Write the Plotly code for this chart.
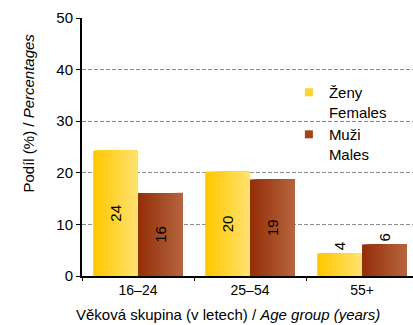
import plotly.graph_objects as go

# Age groups and shares (%) by sex
age_groups = ["16–24", "25–54", "55+"]
females = [24.3, 20.2, 4.4]
males = [16.1, 18.7, 6.1]
y_ticks = [0, 10, 20, 30, 40, 50]

FONT = "Liberation Sans, Arial, sans-serif"
BAR_W = 0.4      # width of one bar in category units
N_STRIPS = 18    # vertical strips used to fake a horizontal gradient


def lerp(c0, c1, t):
    return "rgb(%d,%d,%d)" % tuple(round(a + (b - a) * t) for a, b in zip(c0, c1))


series = [
    ("Ženy<br>Females", females, (255, 200, 0), (255, 226, 110), -BAR_W),
    ("Muži<br>Males", males, (148, 48, 8), (180, 100, 62), 0.0),
]

fig = go.Figure()

for name, vals, c_left, c_right, start in series:
    step = BAR_W / N_STRIPS
    for i in range(N_STRIPS):
        t = i / (N_STRIPS - 1)
        fig.add_trace(go.Bar(
            x=age_groups, y=vals,
            offset=start + i * step, width=BAR_W - i * step,
            marker=dict(color=lerp(c_left, c_right, t), line=dict(width=0)),
            showlegend=False, hoverinfo="skip",
        ))
    # transparent full-width bar carrying the value label
    fig.add_trace(go.Bar(
        x=age_groups, y=vals, offset=start, width=BAR_W,
        marker=dict(color="rgba(0,0,0,0)", line=dict(width=0)),
        text=[f"{v:.0f}" for v in vals],
        textposition=["inside" if v > 8 else "outside" for v in vals],
        insidetextanchor="middle",
        textangle=-90, constraintext="none", cliponaxis=False,
        textfont=dict(family=FONT, size=15, color="black"),
        showlegend=False, hoverinfo="skip",
    ))
    # small square legend key
    fig.add_trace(go.Scatter(
        x=[None], y=[None], mode="markers", name=name,
        marker=dict(symbol="square", size=8, color=lerp(c_left, c_right, 0.4)),
        hoverinfo="skip",
    ))

fig.update_layout(
    barmode="overlay",
    width=413, height=325,
    margin=dict(l=82, r=0, t=18, b=49),
    paper_bgcolor="white", plot_bgcolor="white",
    font=dict(family=FONT, size=15, color="black"),
    showlegend=True,
    legend=dict(
        x=0.625, y=0.775, xanchor="left", yanchor="top",
        bgcolor="rgba(0,0,0,0)", valign="top",
        font=dict(family=FONT, size=15, color="black"),
        traceorder="normal", itemwidth=30,
    ),
    xaxis=dict(
        type="category", range=[-0.5, 2.455],
        showline=True, linecolor="black", linewidth=2,
        ticks="outside", tickson="boundaries", ticklen=3,
        tickcolor="black", tickwidth=1,
        showgrid=False, fixedrange=True,
        tickfont=dict(family=FONT, size=14),
    ),
    yaxis=dict(
        range=[0, 50], tickvals=y_ticks,
        showline=True, linecolor="black", linewidth=2,
        ticks="outside", ticklen=4, tickcolor="black", tickwidth=1,
        showgrid=True, gridcolor="#8a8a8a", griddash="4px,2px", gridwidth=1.3,
        zeroline=False, fixedrange=True,
        tickfont=dict(family=FONT, size=15),
    ),
    annotations=[
        dict(text="Podíl (%) / <i>Percentages</i>",
             xref="paper", yref="paper", x=-0.193, y=0.632,
             textangle=-90, showarrow=False,
             font=dict(family=FONT, size=15)),
        dict(text="Věková skupina (v letech) / <i>Age group (years)</i>",
             xref="paper", yref="paper", x=0.441, y=-0.11,
             yanchor="top", showarrow=False,
             font=dict(family=FONT, size=15)),
    ],
)

fig.write_html("out.html")
